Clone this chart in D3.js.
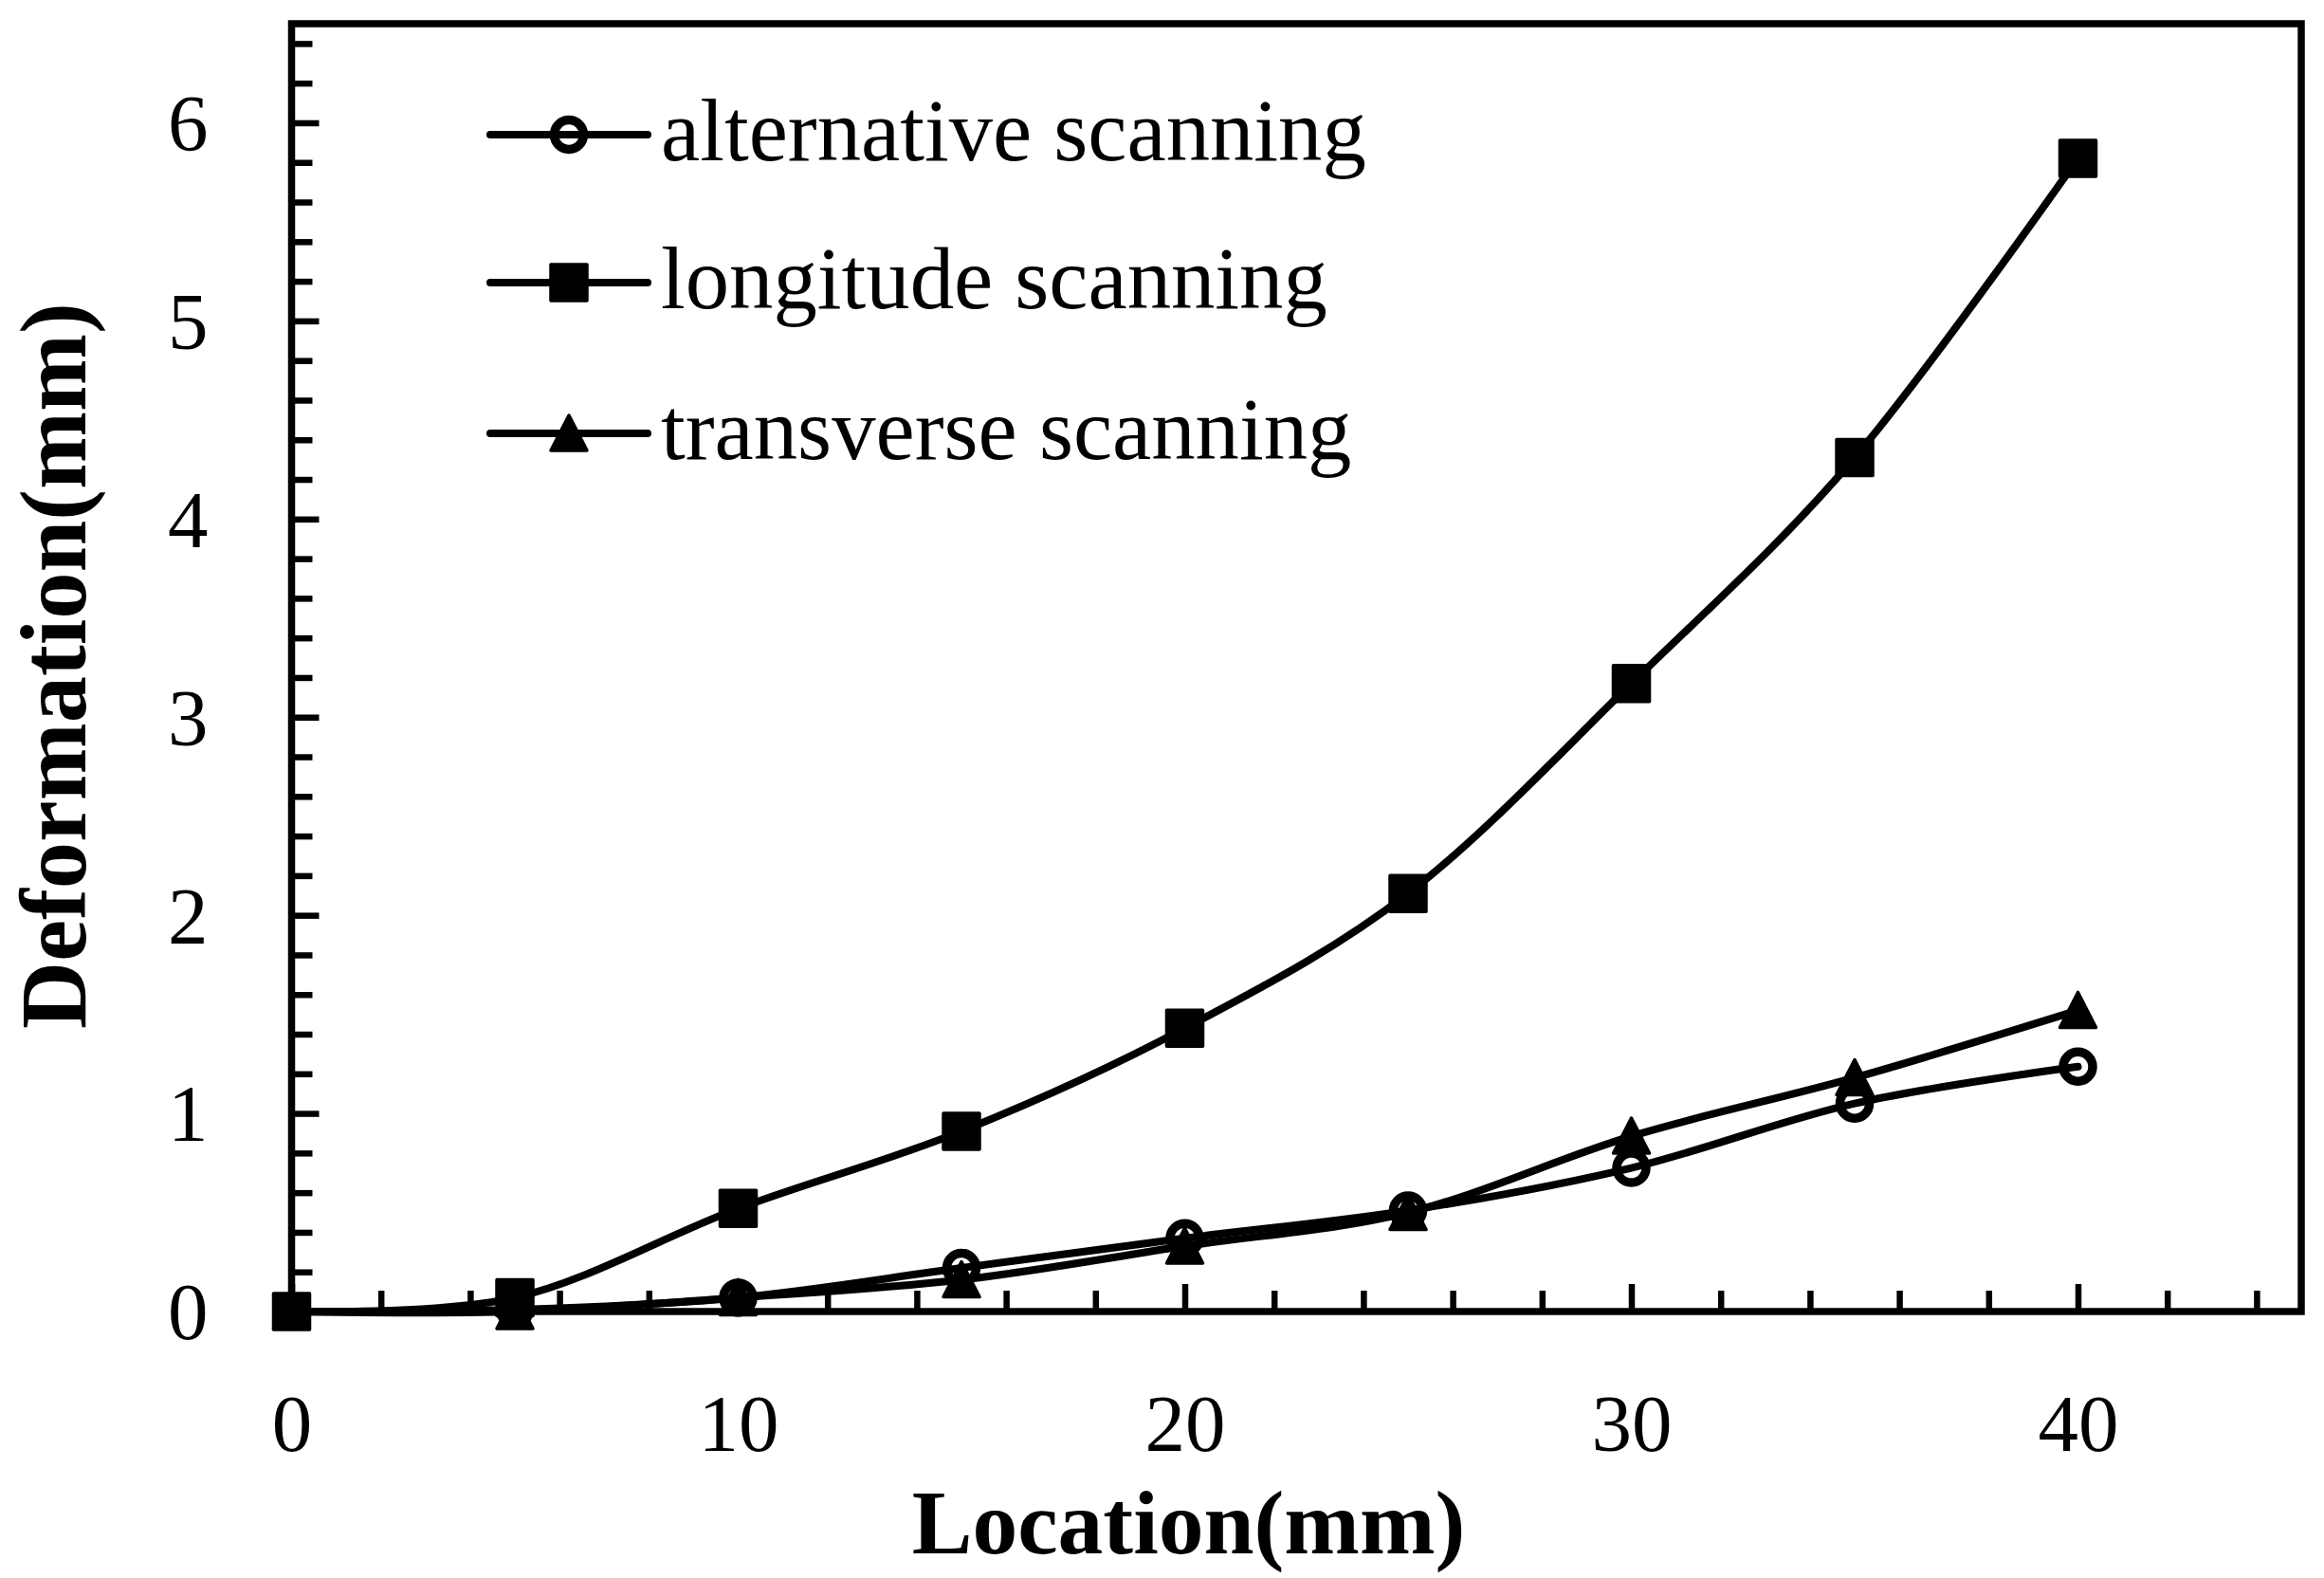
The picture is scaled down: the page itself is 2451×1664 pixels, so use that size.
<!DOCTYPE html>
<html>
<head>
<meta charset="utf-8">
<script src="https://cdn.jsdelivr.net/npm/d3@7"></script>
<style>
  html, body { margin: 0; padding: 0; background: #fff; }
  svg { display: block; }
  text { font-family: "Liberation Serif", "Times New Roman", serif; fill: #000; }
</style>
</head>
<body>
<svg id="chart" width="2451" height="1664"></svg>
<script>
// ---- data ----
const locations   = [0, 5, 10, 15, 20, 25, 30, 35, 40];
const alternative = [0, 0.01, 0.07, 0.22, 0.37, 0.51, 0.725, 1.05, 1.236];
const longitude   = [0, 0.07, 0.52, 0.91, 1.43, 2.11, 3.17, 4.31, 5.82];
const transverse  = [0, 0.0, 0.07, 0.16, 0.33, 0.50, 0.885, 1.18, 1.52];
const seriesNames = ["alternative scanning", "longitude scanning", "transverse scanning"];
const xMajorTicks = [0, 10, 20, 30, 40];
const yMajorTicks = [0, 1, 2, 3, 4, 5, 6];
const xLabel = "Location(mm)";
const yLabel = "Deformation(mm)";

// ---- layout ----
const plotL = 307.5, plotR = 2427, plotT = 25, plotB = 1383;
const svg = d3.select("#chart");

const x = d3.scaleLinear().domain([0, 45]).range([plotL, plotR]);
const y = d3.scaleLinear().domain([0, 6.5]).range([plotB, plotT]);

const xMinor = d3.range(0, 45.001, 2).filter(v => xMajorTicks.indexOf(v) < 0);
const yMinor = d3.range(0, 33, 1).map(v => +(v * 0.2).toFixed(2)).filter(v => v <= 6.5 && !Number.isInteger(v));

// minor ticks
const gxMinor = svg.append("g").attr("transform", `translate(0,${plotB})`)
  .call(d3.axisBottom(x).tickValues(xMinor).tickSizeInner(-22).tickSizeOuter(0).tickFormat(""));
const gyMinor = svg.append("g").attr("transform", `translate(${plotL},0)`)
  .call(d3.axisLeft(y).tickValues(yMinor).tickSizeInner(-22).tickSizeOuter(0).tickFormat(""));
// major ticks with labels
const gx = svg.append("g").attr("transform", `translate(0,${plotB})`)
  .call(d3.axisBottom(x).tickValues(xMajorTicks).tickSizeInner(-29).tickSizeOuter(0).tickPadding(87).tickFormat(d3.format("d")));
const gy = svg.append("g").attr("transform", `translate(${plotL},0)`)
  .call(d3.axisLeft(y).tickValues(yMajorTicks).tickSizeInner(-29).tickSizeOuter(0).tickPadding(88).tickFormat(d3.format("d")));

[gxMinor, gyMinor, gx, gy].forEach(g => {
  g.select(".domain").remove();
  g.selectAll(".tick line").attr("stroke", "#000").attr("stroke-width", 6.5);
  g.selectAll(".tick text")
    .style("font-family", '"Liberation Serif", "Times New Roman", serif')
    .style("font-size", "85px").attr("fill", "#000");
});
gy.selectAll(".tick text").attr("dy", "0.34em");

// frame
svg.append("rect")
  .attr("x", plotL).attr("y", plotT)
  .attr("width", plotR - plotL).attr("height", plotB - plotT)
  .attr("fill", "none").attr("stroke", "#000").attr("stroke-width", 7.5);

// axis titles
svg.append("text")
  .attr("x", (x(0) + x(40)) / 2 + 4).attr("y", 1638)
  .attr("text-anchor", "middle")
  .style("font-size", "95.5px").style("font-weight", "bold")
  .text(xLabel);
svg.append("text")
  .attr("transform", `translate(90,${(plotT + plotB) / 2 - 2}) rotate(-90)`)
  .attr("text-anchor", "middle")
  .style("font-size", "98.5px").style("font-weight", "bold")
  .text(yLabel);

// ---- series ----
const curve = d3.curveCatmullRom.alpha(0);
const line = d3.line().x(d => x(d[0])).y(d => y(d[1])).curve(curve);
const seriesData = [alternative, longitude, transverse].map(vals => locations.map((l, i) => [l, vals[i]]));

const gLines = svg.append("g");
seriesData.forEach(pts => {
  gLines.append("path").datum(pts).attr("d", line)
    .attr("fill", "none").attr("stroke", "#000").attr("stroke-width", 8)
    .attr("stroke-linejoin", "round").attr("stroke-linecap", "round");
});

const triPath = "M0,-19 L19,18 L-19,18 Z";
function drawMarker(g, kind, cx, cy) {
  if (kind === 0) {
    g.append("circle").attr("cx", cx).attr("cy", cy).attr("r", 15.5)
      .attr("fill", "none").attr("stroke", "#000").attr("stroke-width", 9.5);
  } else if (kind === 1) {
    g.append("rect").attr("x", cx - 19).attr("y", cy - 19).attr("width", 38).attr("height", 38)
      .attr("fill", "#000").attr("stroke", "#000").attr("stroke-width", 3.5).attr("stroke-linejoin", "round");
  } else {
    g.append("path").attr("d", triPath).attr("transform", `translate(${cx},${cy})`)
      .attr("fill", "#000").attr("stroke", "#000").attr("stroke-width", 3.5).attr("stroke-linejoin", "round");
  }
}

const gMarks = svg.append("g");
[2, 1, 0].forEach(k => {
  seriesData[k].forEach(p => drawMarker(gMarks, k, x(p[0]), y(p[1])));
});

// ---- legend ----
const legendRows = [142, 298, 457];
const gLeg = svg.append("g");
seriesNames.forEach((name, k) => {
  const ly = legendRows[k];
  gLeg.append("line").attr("x1", 517).attr("x2", 683).attr("y1", ly).attr("y2", ly)
    .attr("stroke", "#000").attr("stroke-width", 8).attr("stroke-linecap", "round");
  drawMarker(gLeg, k, 600, ly);
  gLeg.append("text").attr("x", 697).attr("y", ly + 27)
    .style("font-size", "92.7px").text(name);
});
</script>
</body>
</html>
